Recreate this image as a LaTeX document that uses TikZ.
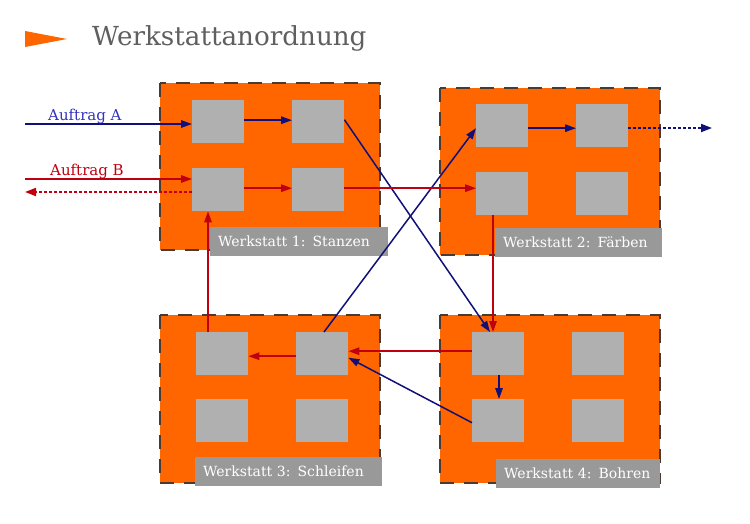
\documentclass[tikz,border=0pt]{standalone}
\usepackage{fontspec}
\setmainfont{DejaVu Serif}
\usetikzlibrary{arrows.meta}
\definecolor{orng}{HTML}{FF6600}
\definecolor{sqgray}{HTML}{B0B0B0}
\definecolor{lblgray}{HTML}{999999}
\definecolor{brd}{HTML}{4A3A30}
\definecolor{navy}{HTML}{10107A}
\definecolor{labblue}{HTML}{3333BB}
\definecolor{dred}{HTML}{C00010}
\definecolor{titlegray}{HTML}{5F5F5F}
\begin{document}
\begin{tikzpicture}[x=1pt,y=-1pt,
  werk/.style={fill=orng, draw=brd, line width=1.3pt, dash pattern=on 14pt off 10pt},
  station/.style={fill=sqgray, draw=none, inner sep=0pt, minimum width=52pt, minimum height=43pt, anchor=north west},
  lbl/.style={fill=lblgray, text=white, inner sep=0pt, inner xsep=8pt, minimum height=29pt, anchor=north west, align=left, font=\fontsize{14}{16}\selectfont},
  tip/.style={-{Triangle[length=11pt,width=7.5pt]}},
  bl/.style={draw=navy, line width=1.5pt},
  rd/.style={draw=dred, line width=1.5pt},
  dotl/.style={line width=1.7pt, dash pattern=on 3pt off 2pt}]
\useasboundingbox (0,0) rectangle (750,523);
% title
\fill[orng] (25,31) -- (67,39) -- (25,47) -- cycle;
\node[anchor=base west, text=titlegray, font=\fontsize{26.2}{30}\selectfont, inner sep=0pt] (title) at (92,45) {Werkstattanordnung};
% workshops
\draw[werk] (160,83) rectangle (380,250);
\draw[werk] (440,88) rectangle (660,255);
\draw[werk] (160,315) rectangle (380,483);
\draw[werk] (440,315) rectangle (660,483);
% stations W1
\node[station] (a11) at (192,100) {};
\node[station] (a12) at (292,100) {};
\node[station] (a21) at (192,168) {};
\node[station] (a22) at (292,168) {};
% W2
\node[station] (b11) at (476,104) {};
\node[station] (b12) at (576,104) {};
\node[station] (b21) at (476,172) {};
\node[station] (b22) at (576,172) {};
% W3
\node[station] (c11) at (196,332) {};
\node[station] (c12) at (296,332) {};
\node[station] (c21) at (196,399) {};
\node[station] (c22) at (296,399) {};
% W4
\node[station] (d11) at (472,332) {};
\node[station] (d12) at (572,332) {};
\node[station] (d21) at (472,399) {};
\node[station] (d22) at (572,399) {};
% labels
\node[lbl, text width=162pt] (l1) at (210,227) {Werkstatt 1: Stanzen};
\node[lbl, text width=151pt] (l2) at (495,228) {Werkstatt 2: Färben};
\node[lbl, text width=171pt] (l3) at (195,457) {Werkstatt 3: Schleifen};
\node[lbl, text width=148pt] (l4) at (496,459) {Werkstatt 4: Bohren};
% Auftrag A
\coordinate (inA) at (25,124);
\draw[bl, tip] (inA) -- (inA -| a11.west);
\node[anchor=base west, text=labblue, font=\fontsize{15}{17}\selectfont, inner sep=0pt] (labA) at (48,120) {Auftrag A};
\draw[bl, tip] ([yshift=1.5pt]a11.east) -- ([yshift=1.5pt]a12.west);
\draw[bl, tip] ([yshift=2pt]a12.east) -- ([xshift=18pt]d11.north west);
\draw[bl, tip] ([xshift=27pt]d11.south west) -- ([xshift=27pt]d21.north west);
\draw[bl, tip] ([yshift=-2pt]d21.west) -- ([yshift=-4pt]c12.east);
\draw[bl, tip] ([xshift=28pt]c12.north west) -- ([yshift=-2.5pt]b11.west);
\draw[bl, tip] ([yshift=-2.5pt]b11.east) -- ([yshift=-2.5pt]b12.west);
\coordinate (outA) at (712,128);
\draw[bl, dotl, -{Triangle[length=11pt,width=8pt]}] (outA -| b12.east) -- (outA);
% Auftrag B
\coordinate (inB) at (25,179);
\draw[rd, tip] (inB) -- (inB -| a21.west);
\node[anchor=base west, text=dred, font=\fontsize{15}{17}\selectfont, inner sep=0pt] (labB) at (50,175) {Auftrag B};
\coordinate (outB) at (25,192);
\draw[rd, dotl, -{Triangle[length=11pt,width=8pt]}] (outB -| a21.west) -- (outB);
\draw[rd, tip] ([yshift=1.5pt]a21.east) -- ([yshift=1.5pt]a22.west);
\draw[rd, tip] ([yshift=1.5pt]a22.east) -- ([yshift=1.5pt]a22.east -| b21.west);
\draw[rd, tip] ([xshift=17pt]b21.south west) -- ([xshift=21pt]d11.north west);
\draw[rd, tip] ([yshift=2.5pt]d11.west) -- ([yshift=2.5pt]d11.west -| c12.east);
\draw[rd, tip] ([yshift=-2.5pt]c12.west) -- ([yshift=-2.5pt]c11.east);
\draw[rd, tip] ([xshift=12pt]c11.north west) -- ([xshift=16pt]a21.south west);
\end{tikzpicture}
\end{document}
